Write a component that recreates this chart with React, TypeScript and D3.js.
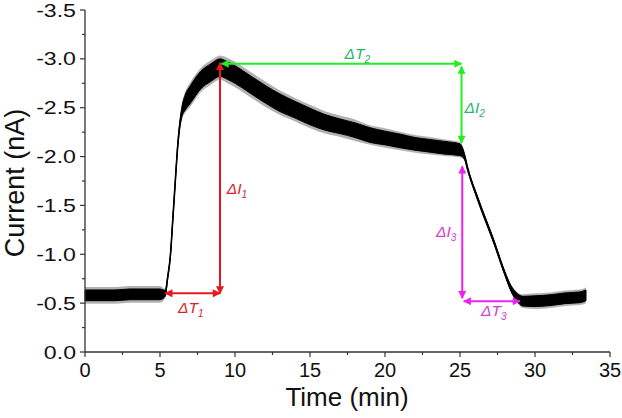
import React from "react";
import * as d3 from "d3";

// ---- Data ----
const traceTime = [0, 1, 2, 3, 4, 5, 5.35, 5.5, 5.7, 5.85, 6.0, 6.15, 6.3, 6.45, 6.7, 7.0, 7.7, 8.4, 9.0, 9.5, 10, 11, 12, 13, 14, 15, 16, 17, 18, 19, 20, 21, 22, 23, 24, 25, 25.3, 25.5, 26.2, 27.3, 28.0, 28.4, 28.8, 29.2, 30, 31, 32, 33, 33.4];
const traceCurrent = [-0.58, -0.58, -0.58, -0.59, -0.59, -0.59, -0.60, -0.75, -1.0, -1.35, -1.7, -2.05, -2.3, -2.45, -2.56, -2.63, -2.78, -2.86, -2.91, -2.88, -2.84, -2.74, -2.64, -2.55, -2.48, -2.41, -2.35, -2.31, -2.27, -2.22, -2.19, -2.16, -2.13, -2.11, -2.09, -2.07, -2.0, -1.88, -1.56, -1.11, -0.8, -0.65, -0.56, -0.52, -0.52, -0.53, -0.55, -0.56, -0.58];
// half-width of the dense noise band
const traceNoise = [0.055, 0.055, 0.055, 0.055, 0.055, 0.055, 0.03, 0.015, 0.01, 0.01, 0.01, 0.015, 0.03, 0.05, 0.08, 0.09, 0.09, 0.09, 0.09, 0.09, 0.09, 0.09, 0.09, 0.09, 0.085, 0.085, 0.08, 0.075, 0.075, 0.075, 0.07, 0.07, 0.065, 0.065, 0.065, 0.06, 0.03, 0.02, 0.02, 0.02, 0.02, 0.03, 0.04, 0.05, 0.055, 0.055, 0.055, 0.055, 0.055];
// half-width reached by the largest spikes
const traceSpikes = [0.085, 0.085, 0.085, 0.085, 0.085, 0.085, 0.045, 0.02, 0.015, 0.015, 0.015, 0.02, 0.045, 0.075, 0.11, 0.125, 0.125, 0.125, 0.125, 0.13, 0.13, 0.13, 0.13, 0.125, 0.12, 0.12, 0.115, 0.11, 0.11, 0.1, 0.1, 0.095, 0.09, 0.09, 0.085, 0.08, 0.04, 0.025, 0.025, 0.025, 0.025, 0.04, 0.055, 0.07, 0.08, 0.08, 0.08, 0.08, 0.08];

const xTicks = [0, 5, 10, 15, 20, 25, 30, 35];
const xTickLabels = ["0", "5", "10", "15", "20", "25", "30", "35"];
const xMinor = [2.5, 7.5, 12.5, 17.5, 22.5, 27.5, 32.5];
const yTicks = [0, -0.5, -1, -1.5, -2, -2.5, -3, -3.5];
const yTickLabels = ["0.0", "-0.5", "-1.0", "-1.5", "-2.0", "-2.5", "-3.0", "-3.5"];
const yMinor = [-0.25, -0.75, -1.25, -1.75, -2.25, -2.75, -3.25];

// arrows: [t1, i1, t2, i2]
const arrowCoords = [
  [5.35, -0.6, 9.0, -0.6],
  [9.0, -0.6, 9.0, -2.96],
  [9.1, -2.95, 25.1, -2.95],
  [25.1, -2.92, 25.1, -2.14],
  [25.15, -1.9, 25.15, -0.55],
  [25.25, -0.52, 29.0, -0.52],
];
const arrowColors = ["#e8161e", "#e8161e", "#22ee22", "#22ee22", "#ee22ee", "#ee22ee"];

// labels: [t, i]
const labelNames = ["I", "T", "T", "I", "I", "T"];
const labelSubs = ["1", "1", "2", "2", "3", "3"];
const labelPos = [
  [9.45, -1.62],
  [6.2, -0.4],
  [17.3, -3.0],
  [25.3, -2.45],
  [23.4, -1.18],
  [26.4, -0.37],
];
const labelColors = ["#d8232a", "#d8232a", "#27b36b", "#27b36b", "#d23cd2", "#d23cd2"];

const W = 622;
const H = 418;

export default function App() {
  const x = d3.scaleLinear().domain([0, 35]).range([85, 610]);
  const y = d3.scaleLinear().domain([0, -3.5]).range([352, 10]);

  const pts = traceTime.map((t, i) => ({ t, v: traceCurrent[i], n: traceNoise[i], s: traceSpikes[i] }));
  const band = d3
    .area<any>()
    .x((d) => x(d.t))
    .y0((d) => y(d.v - d.n))
    .y1((d) => y(d.v + d.n))
    .curve(d3.curveMonotoneX)(pts);
  const spikeBand = d3
    .area<any>()
    .x((d) => x(d.t))
    .y0((d) => y(d.v - d.s))
    .y1((d) => y(d.v + d.s))
    .curve(d3.curveMonotoneX)(pts);
  const line = d3
    .line<any>()
    .x((d) => x(d.t))
    .y((d) => y(d.v))
    .curve(d3.curveMonotoneX)(pts);

  const x0 = x(0);
  const y0 = y(0);
  const axisColor = "#333";
  const font = "Liberation Sans, Arial, sans-serif";

  return (
    <svg width={W} height={H} style={{ position: "absolute", left: 0, top: 0, background: "#fff" }}>
      <defs>
        {arrowColors.map((c, i) => (
          <marker key={i} id={`ah${i}`} viewBox="0 0 10 10" refX="9" refY="5" markerWidth="10" markerHeight="8" markerUnits="userSpaceOnUse" orient="auto-start-reverse">
            <path d="M0,0 L10,5 L0,10 z" fill={c} />
          </marker>
        ))}
      </defs>

      {/* trace */}
      <path d={spikeBand || ""} fill="#000" fillOpacity={0.3} stroke="none" />
      <path d={band || ""} fill="#000" stroke="#000" strokeWidth={1} />
      <path d={line || ""} fill="none" stroke="#000" strokeWidth={1.6} />

      {/* arrows */}
      {arrowCoords.map((a, i) => (
        <line
          key={i}
          x1={x(a[0])}
          y1={y(a[1])}
          x2={x(a[2])}
          y2={y(a[3])}
          stroke={arrowColors[i]}
          strokeWidth={2}
          markerStart={`url(#ah${i})`}
          markerEnd={`url(#ah${i})`}
        />
      ))}

      {/* labels */}
      {labelPos.map((p, i) => (
        <text key={i} x={x(p[0])} y={y(p[1])} fill={labelColors[i]} fontFamily={font} fontSize={15.5} fontStyle="italic">
          {"Δ" + labelNames[i]}
          <tspan fontSize={10} dy={4}>{labelSubs[i]}</tspan>
        </text>
      ))}

      {/* axes */}
      <line x1={x0} y1={y0} x2={x(35)} y2={y0} stroke={axisColor} strokeWidth={1.3} />
      <line x1={x0} y1={y0} x2={x0} y2={y(-3.5)} stroke={axisColor} strokeWidth={1.3} />
      {xTicks.map((t, i) => (
        <g key={"xt" + i}>
          <line x1={x(t)} x2={x(t)} y1={y0} y2={y0 + 5} stroke={axisColor} strokeWidth={1.2} />
          <text x={x(t)} y={y0 + 25} textAnchor="middle" fontFamily={font} fontSize={20} fill="#111">
            {xTickLabels[i]}
          </text>
        </g>
      ))}
      {xMinor.map((t, i) => (
        <line key={"xm" + i} x1={x(t)} x2={x(t)} y1={y0} y2={y0 + 3} stroke={axisColor} strokeWidth={1.2} />
      ))}
      {yTicks.map((v, i) => (
        <g key={"yt" + i}>
          <line x1={x0 - 5} x2={x0} y1={y(v)} y2={y(v)} stroke={axisColor} strokeWidth={1.2} />
          <text transform={`translate(${x0 - 9},${y(v) + 6.5}) scale(1.25,1)`} textAnchor="end" fontFamily={font} fontSize={18.5} fill="#111">
            {yTickLabels[i]}
          </text>
        </g>
      ))}
      {yMinor.map((v, i) => (
        <line key={"ym" + i} x1={x0 - 3} x2={x0} y1={y(v)} y2={y(v)} stroke={axisColor} strokeWidth={1.2} />
      ))}

      <text x={347} y={406} textAnchor="middle" fontFamily={font} fontSize={26} fill="#111">
        Time (min)
      </text>
      <text transform="translate(24,183) rotate(-90)" textAnchor="middle" fontFamily={font} fontSize={27} fill="#111">
        Current (nA)
      </text>
    </svg>
  );
}
